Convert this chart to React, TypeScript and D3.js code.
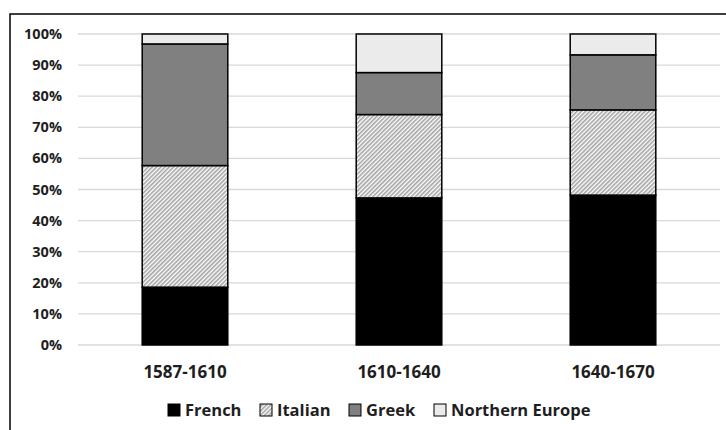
import React from "react";
import * as d3 from "d3";

const categories = ["1587-1610", "1610-1640", "1640-1670"];
const seriesNames = ["French", "Italian", "Greek", "Northern Europe"];
const french = [18.6, 47.3, 48.2];
const italian = [39.1, 26.8, 27.4];
const greek = [39.1, 13.5, 17.7];
const northern = [3.2, 12.4, 6.7];
const yTicks = [0, 10, 20, 30, 40, 50, 60, 70, 80, 90, 100];

const W = 726;
const H = 430;
const FONT = "'Open Sans', 'Noto Sans', sans-serif";

export default function App() {
  const x = d3.scaleBand<string>().domain(categories).range([78, 720]).paddingInner(0.6).paddingOuter(0.3);
  const y = d3.scaleLinear().domain([0, 100]).range([345, 34]);

  const rows = categories.map((c, i) => ({
    cat: c,
    French: french[i],
    Italian: italian[i],
    Greek: greek[i],
    "Northern Europe": northern[i],
  }));
  const stack = d3.stack<any>().keys(seriesNames)(rows);
  const fills: Record<string, string> = {
    French: "#000000",
    Italian: "url(#hatch)",
    Greek: "#808080",
    "Northern Europe": "#ebebeb",
  };

  const legendX = [168, 260, 349, 434];

  return (
    <svg width={W} height={H} style={{ position: "absolute", left: 0, top: 0, background: "#fff" }}>
      <defs>
        <pattern id="hatch" patternUnits="userSpaceOnUse" width="3" height="3" patternTransform="rotate(45)">
          <rect width="3" height="3" fill="#ffffff" />
          <rect x="0" y="0" width="1.6" height="3" fill="#a3a3a3" />
        </pattern>
      </defs>
      <rect x={10} y={14} width={W + 10} height={H + 10} fill="#fff" stroke="#000" strokeWidth={1.5} />
      {yTicks.map((t) => (
        <g key={t}>
          <line x1={78} x2={720} y1={y(t)} y2={y(t)} stroke="#d9d9d9" strokeWidth={1.3} />
          <text x={62} y={y(t)} dy="0.35em" textAnchor="end" fontFamily={FONT} fontWeight={700} fontSize={14.5} fill="#1e1e1e">
            {t}%
          </text>
        </g>
      ))}
      {stack.map((s) => (
        <g key={s.key}>
          {s.map((d, i) => (
            <rect
              key={i}
              x={x(categories[i])!}
              width={x.bandwidth()}
              y={y(d[1])}
              height={y(d[0]) - y(d[1])}
              fill={fills[s.key]}
              stroke="#000"
              strokeWidth={1.5}
            />
          ))}
        </g>
      ))}
      {categories.map((c) => (
        <text key={c} x={x(c)! + x.bandwidth() / 2} y={378} textAnchor="middle" fontFamily={FONT} fontWeight={700} fontSize={17} fill="#1e1e1e">
          {c}
        </text>
      ))}
      {seriesNames.map((n, i) => (
        <g key={n}>
          <rect x={legendX[i]} y={404} width={12} height={12} fill={fills[n]} stroke="#000" strokeWidth={1} />
          <text x={legendX[i] + 17} y={410} dy="0.36em" fontFamily={FONT} fontWeight={700} fontSize={16.5} fill="#1e1e1e">
            {n}
          </text>
        </g>
      ))}
    </svg>
  );
}
